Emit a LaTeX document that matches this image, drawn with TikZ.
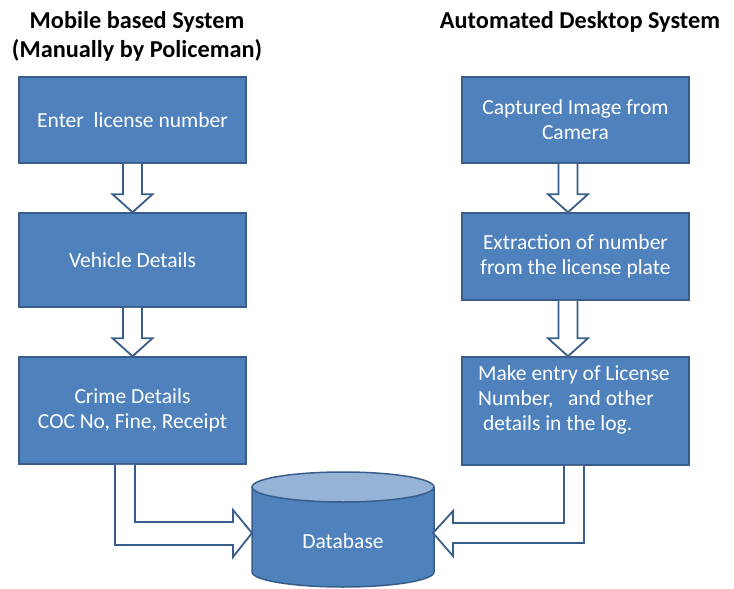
\documentclass[tikz,border=0pt]{standalone}
\usepackage{fontspec}
\setmainfont{Carlito}
\usetikzlibrary{calc}
\definecolor{boxfill}{HTML}{4F81BD}
\definecolor{boxline}{HTML}{385D8A}
\definecolor{dbtop}{HTML}{95B3D7}
\tikzset{
  boxfont/.style={font=\fontsize{21.5}{25}\selectfont},
  procbox/.style={rectangle, fill=boxfill, draw=boxline, line width=1.5pt,
    text=white, boxfont, align=center,
    minimum width=227pt, inner sep=0pt},
  blockarrow/.style={fill=white, draw=boxline, line width=1.8pt, line join=miter},
  title/.style={font=\fontsize{24.3}{29}\selectfont\bfseries, align=center, text=black}
}
\begin{document}
\begin{tikzpicture}[x=1pt,y=-1pt]
\useasboundingbox (0,0) rectangle (734,589);
% titles
\node[title] (t1) at (137,36) {Mobile based System\\(Manually by Policeman)};
\node[title] (t2) at (580,22) {Automated Desktop System};
% left column
\node[procbox, minimum height=86pt] (l1) at (132.5,120) {Enter\ \ license number};
\node[procbox, minimum height=94pt] (l2) at (132.5,260) {Vehicle Details};
\node[procbox, minimum height=107pt] (l3) at (132.5,410.5) {Crime Details\\COC No, Fine, Receipt};
% right column
\node[procbox, minimum height=86pt] (r1) at (575.5,120) {Captured Image from\\Camera};
\node[procbox, minimum height=87pt] (r2) at (575.5,256.5) {Extraction of number\\from the license plate};
\node[procbox, minimum height=108pt] (r3) at (575.5,411) {};
\node[anchor=north west, text=white, boxfont, align=left, inner sep=0pt] (r3t) at (478,365)
  {Make entry of License\\Number,\ \ \ and other\\\ details in the log.};
% database cylinder
\fill[boxfill] (252,487) -- (252,572) arc[start angle=180, end angle=0, x radius=91, y radius=15] -- (434,487) -- cycle;
\draw[boxline, line width=1.5pt] (252,487) -- (252,572) arc[start angle=180, end angle=0, x radius=91, y radius=15] -- (434,487);
\draw[boxline, line width=1.5pt, fill=dbtop] (343,487) ellipse[x radius=91, y radius=15];
\node[text=white, boxfont, inner sep=0pt] (db) at (343,541) {Database};
% vertical block arrows
\foreach \a/\b/\o in {l1/l2/0, l2/l3/0, r1/r2/-7.5, r2/r3/-7.5}{
  \draw[blockarrow]
    ($(\a.south)+(\o-9.5,0)$) -- ($(\b.north)+(\o-9.5,-18)$) -- ($(\b.north)+(\o-20,-18)$)
    -- ($(\b.north)+(\o,0)$) -- ($(\b.north)+(\o+20,-18)$) -- ($(\b.north)+(\o+9.5,-18)$)
    -- ($(\a.south)+(\o+9.5,0)$);
}
% bent block arrows into database
\draw[blockarrow]
  ($(l3.south)+(-17.5,0)$) |- ($(db)+(-110,4)$) -- ($(db)+(-110,16)$) -- ($(db)+(-91,-8)$)
  -- ($(db)+(-110,-31)$) -- ($(db)+(-110,-19)$) -| ($(l3.south)+(2.5,0)$);
\draw[blockarrow]
  ($(r3.south)+(8.5,0)$) |- ($(db)+(110,2)$) -- ($(db)+(110,15)$) -- ($(db)+(90,-8)$)
  -- ($(db)+(110,-30)$) -- ($(db)+(110,-18)$) -| ($(r3.south)+(-11.5,0)$);
\end{tikzpicture}
\end{document}
